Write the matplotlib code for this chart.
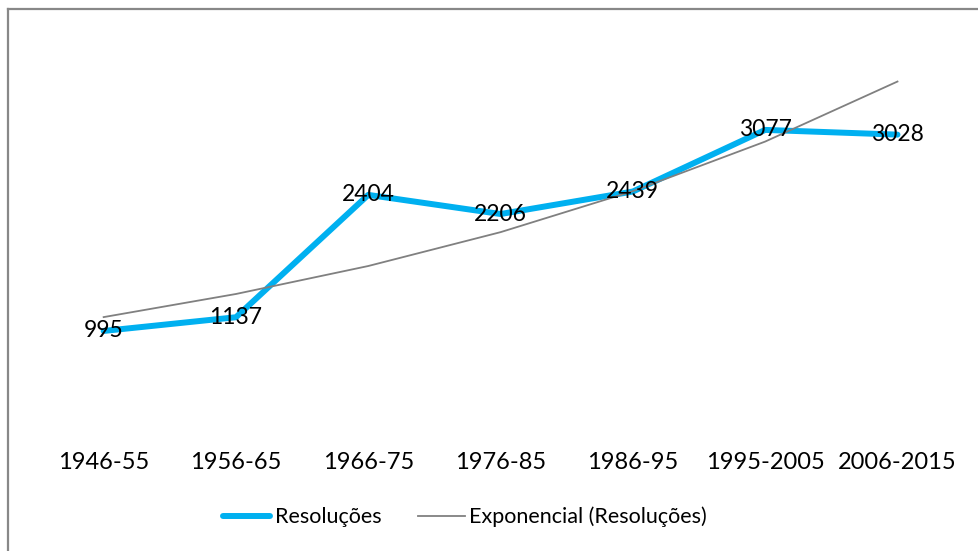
import numpy as np
import matplotlib
matplotlib.use('Agg')
import matplotlib.pyplot as plt
from matplotlib.lines import Line2D

plt.rcParams['font.family'] = ['Lato', 'DejaVu Sans']

# Data
periods = ['1946-55', '1956-65', '1966-75', '1976-85', '1986-95', '1995-2005', '2006-2015']
resolucoes = [995, 1137, 2404, 2206, 2439, 3077, 3028]

# Exponential trendline fitted on the series (as Excel does)
x = np.arange(len(periods))
b, ln_a = np.polyfit(x, np.log(resolucoes), 1)
trend = np.exp(ln_a + b * x)

fig = plt.figure(figsize=(9.79, 5.51), dpi=100)
ax = fig.add_axes([0.0383, 0.225, 0.946, 0.701])

ax.plot(x, resolucoes, color='#00B0F0', linewidth=4.3, solid_capstyle='round',
        solid_joinstyle='round', label='Resoluções', zorder=2)
ax.plot(x, trend, color='#808080', linewidth=1.3, label='Exponencial (Resoluções)', zorder=3)

for xi, v in zip(x, resolucoes):
    ax.text(xi, v, str(v), ha='center', va='center', fontsize=16.5, color='black', zorder=4)

ax.set_xlim(-0.5, len(periods) - 0.5)
ax.set_ylim(0, 4000)
ax.set_xticks(x)
ax.set_xticklabels(periods, fontsize=17)
ax.tick_params(axis='x', length=0, pad=18.3)
ax.set_yticks([])
for s in ax.spines.values():
    s.set_visible(False)

ax.legend(loc='center', bbox_to_anchor=(0.4616, -0.233), ncol=2, frameon=False,
          fontsize=15.5, handlelength=2.2, handletextpad=0.2, columnspacing=1.7)

# Chart-area frame (only top and left edges visible in the crop)
fig.add_artist(Line2D([0.0077, 0.0077], [0, 0.9837], transform=fig.transFigure,
                      color='#888888', linewidth=1.6))
fig.add_artist(Line2D([0.0077, 1.0], [0.9837, 0.9837], transform=fig.transFigure,
                      color='#888888', linewidth=1.6))

fig.savefig('out.png', dpi=100)
